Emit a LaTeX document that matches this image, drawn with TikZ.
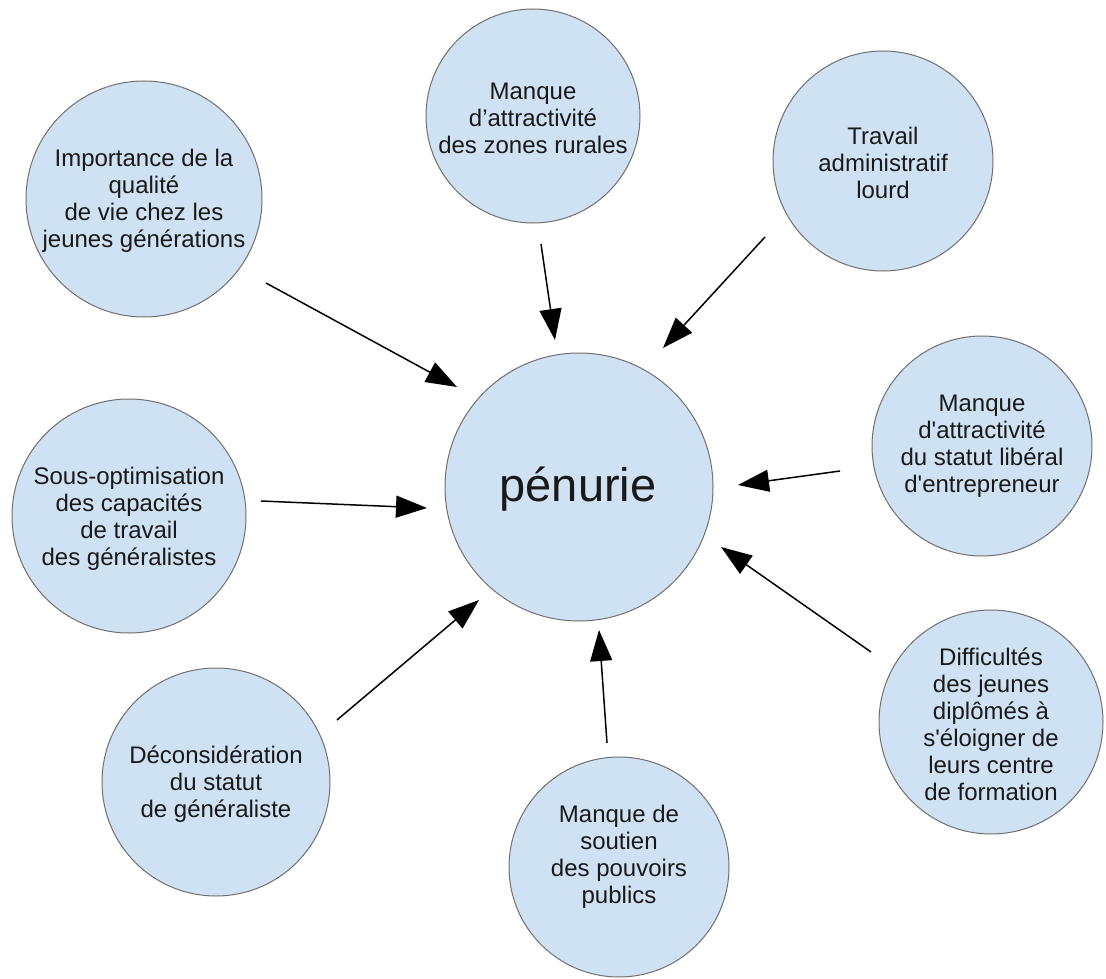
\documentclass[tikz,border=0pt]{standalone}
\usepackage{fontspec}
\setmainfont{Liberation Sans}
\usetikzlibrary{arrows.meta}
\definecolor{bubblefill}{HTML}{CFE2F3}
\definecolor{rim}{HTML}{707070}
\newcommand{\sq}{\textquotesingle}
\begin{document}
\begin{tikzpicture}[x=1pt,y=-1pt,
  bubble/.style={circle,fill=bubblefill,draw=rim,line width=1pt,inner sep=0pt},
  lbl/.style={align=center,font=\fontsize{24}{27}\selectfont,text=black!90,inner sep=0pt},
  cause/.style={line width=1.5pt,-{Triangle[length=31pt,width=22pt]}}]
\useasboundingbox (0,0) rectangle (1106,979);
\fill[white] (0,0) rectangle (1106,979);

% circles
\node[bubble,minimum size=268pt] (pen) at (579,487) {};
\node[bubble,minimum size=236pt] (imp) at (144,199) {};
\node[bubble,minimum size=214pt] (rur) at (533,116) {};
\node[bubble,minimum size=220pt] (adm) at (883,161) {};
\node[bubble,minimum size=220pt] (lib) at (982,446) {};
\node[bubble,minimum size=234pt] (opt) at (129,516) {};
\node[bubble,minimum size=228pt] (dec) at (216,782) {};
\node[bubble,minimum size=220pt] (sou) at (619,867) {};
\node[bubble,minimum size=224pt] (dif) at (991,722) {};

% texts
\node[font=\fontsize{47}{52}\selectfont,inner sep=0pt,text=black!90] (tpen) at (578,489) {pénurie};
\node[lbl] (timp) at (144,201) {Importance de la\\qualité\\de vie chez les\\jeunes générations};
\node[lbl] (trur) at (533,118) {Manque\\d’attractivité\\des zones rurales};
\node[lbl] (tadm) at (883,163) {Travail\\administratif\\lourd};
\node[lbl] (tlib) at (982,446) {Manque\\d\sq attractivité\\du statut libéral\\d\sq entrepreneur};
\node[lbl] (topt) at (129,519) {Sous-optimisation\\des capacités\\de travail\\des généralistes};
\node[lbl] (tdec) at (216,784) {Déconsidération\\du statut\\de généraliste};
\node[lbl] (tsou) at (619,857) {Manque de\\soutien\\des pouvoirs\\publics};
\node[lbl] (tdif) at (991,724) {Difficultés\\des jeunes\\diplômés à\\s\sq éloigner de\\leurs centre\\de formation};

% arrow end points
\coordinate (a1s) at (266,283); \coordinate (a1e) at (457,387);
\coordinate (a2s) at (541,244); \coordinate (a2e) at (555,340);
\coordinate (a3s) at (765,237); \coordinate (a3e) at (663,348);
\coordinate (a4s) at (840,471); \coordinate (a4e) at (738,485);
\coordinate (a5s) at (261,501); \coordinate (a5e) at (427,508);
\coordinate (a6s) at (337,720); \coordinate (a6e) at (479,600);
\coordinate (a7s) at (607,743); \coordinate (a7e) at (599,630);
\coordinate (a8s) at (871,652); \coordinate (a8e) at (721,547);

\draw[cause] (a1s) -- (a1e);
\draw[cause] (a2s) -- (a2e);
\draw[cause] (a3s) -- (a3e);
\draw[cause] (a4s) -- (a4e);
\draw[cause] (a5s) -- (a5e);
\draw[cause] (a6s) -- (a6e);
\draw[cause] (a7s) -- (a7e);
\draw[cause] (a8s) -- (a8e);
\end{tikzpicture}
\end{document}
